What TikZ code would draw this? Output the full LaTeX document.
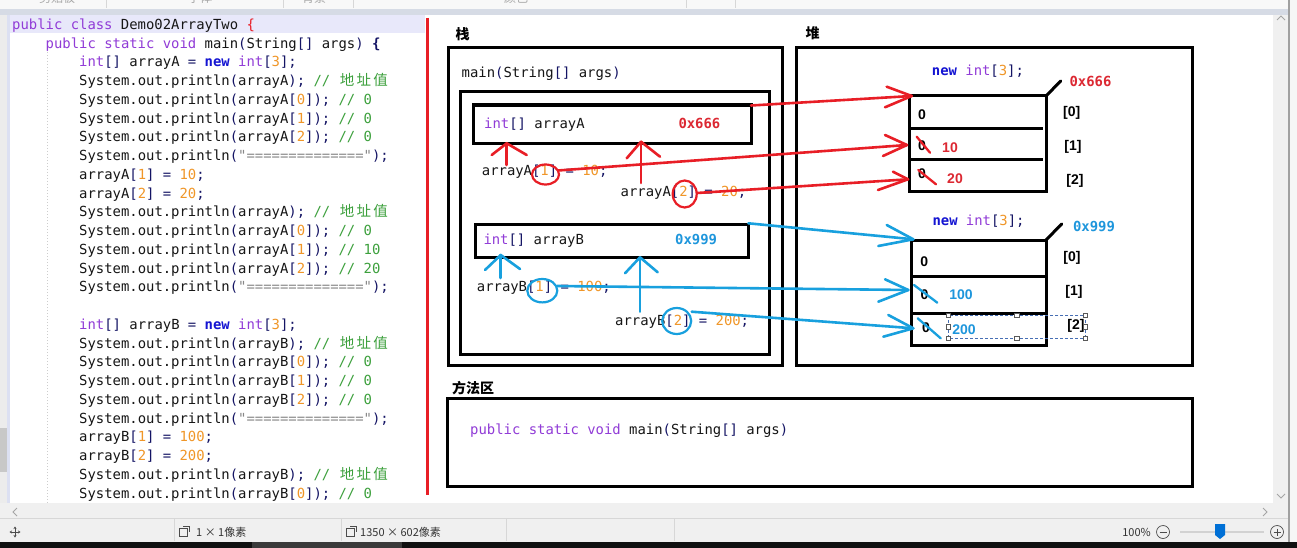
\documentclass[tikz,border=0pt]{standalone}
\usepackage{fontspec}
\setmonofont{DejaVu Sans Mono}
\setsansfont{Liberation Sans}
\newfontfamily\cjk{Noto Sans CJK SC}
\usetikzlibrary{arrows.meta}

% syntax colours
\definecolor{kwc}{RGB}{145,60,215}
\definecolor{newc}{RGB}{20,20,210}
\definecolor{numc}{RGB}{240,150,40}
\definecolor{pnc}{RGB}{20,20,100}
\definecolor{cmtc}{RGB}{60,160,60}
\definecolor{strc}{RGB}{135,135,135}
\definecolor{txt}{RGB}{22,22,22}
% ink colours
\definecolor{rd}{RGB}{232,30,38}
\definecolor{bl}{RGB}{24,160,222}
\definecolor{addrred}{RGB}{220,40,50}
\definecolor{addrblue}{RGB}{30,150,220}
% window colours
\definecolor{winbg}{RGB}{240,240,240}
\definecolor{ribbonbg}{RGB}{248,248,248}
\definecolor{bandc}{RGB}{214,219,229}
\definecolor{gutterc}{RGB}{236,236,236}
\definecolor{gutterline}{RGB}{220,224,242}
\definecolor{blockc}{RGB}{200,200,200}
\definecolor{hilite}{RGB}{232,232,250}
\definecolor{edgec}{RGB}{160,160,160}
\definecolor{outerc}{RGB}{246,246,246}
\definecolor{blackbar}{RGB}{16,16,16}
\definecolor{darkseg}{RGB}{58,58,58}
\definecolor{sepc}{RGB}{215,215,215}
\definecolor{chevc}{RGB}{165,165,165}
\definecolor{selc}{RGB}{70,110,180}
\definecolor{thumbc}{RGB}{0,112,214}
\definecolor{guidec}{RGB}{205,205,205}

\newcommand\kwd[1]{\textcolor{kwc}{#1}}
\newcommand\nwk[1]{\textcolor{newc}{\bfseries #1}}
\newcommand\nmb[1]{\textcolor{numc}{#1}}
\newcommand\pnc[1]{\textcolor{pnc}{#1}}
\newcommand\cmt[1]{\textcolor{cmtc}{#1}}
\newcommand\strg[1]{\textcolor{strc}{#1}}
\newcommand\cjkc[1]{\makebox[16.76pt]{\cjk\fontsize{14.5}{16}\selectfont #1}}
\newcommand\prt[1]{System.out.println\pnc{(}#1\pnc{);}}
\newcommand\addrnote{\cmt{// \cjkc{地}\cjkc{址}\cjkc{值}}}

\tikzset{
  code/.style={anchor=base west, inner sep=0, text=txt,
    font=\ttfamily\fontsize{13.9}{16}\selectfont},
  addr/.style={inner sep=0, font=\ttfamily\bfseries\fontsize{13.9}{16}\selectfont},
  area/.style={inner sep=0, text=black, font=\cjk\bfseries\fontsize{14}{16}\selectfont},
  cellv/.style={inner sep=0, text=black, font=\sffamily\bfseries\fontsize{14}{16}\selectfont},
  frame/.style={draw=black, line width=3pt},
  redink/.style={draw=rd, line width=2.6pt, line cap=round, line join=round},
  blueink/.style={draw=bl, line width=2.6pt, line cap=round, line join=round},
  ring/.style={line width=2.2pt},
  ribbon/.style={inner sep=0, text=gray!70, font=\cjk\fontsize{12}{14}\selectfont},
  status/.style={inner sep=0, anchor=west, text=black!80, font=\cjk\fontsize{11}{13}\selectfont},
  sep/.style={draw=sepc, line width=0.8pt},
  chev/.style={draw=chevc, line width=0.9pt},
  handle/.style={draw=gray!70!black, fill=white, line width=0.5pt},
  icon/.style={draw=black!70, line width=0.8pt}
}

\begin{document}
\begin{tikzpicture}[x=1pt,y=-1pt]
\useasboundingbox (0,0) rectangle (1297,548);

% ---------- window chrome ----------
\fill[winbg] (0,0) rectangle (1297,548);
\fill[ribbonbg] (0,0) rectangle (1297,9);
\begin{scope}
  \clip (0,0) rectangle (1297,4.5);
  \node[ribbon] (rb1) at (57,-2.5) {剪贴板};
  \node[ribbon] (rb2) at (200,-2.5) {字体};
  \node[ribbon] (rb3) at (314,-2.5) {背景};
  \node[ribbon] (rb4) at (516,-2.5) {颜色};
\end{scope}
\foreach \sx in {106,283,353,686,735} \draw[sep] (\sx,0) -- (\sx,8);
\fill[bandc] (0,9) rectangle (1289,15);

% canvas
\fill[white] (10,15) rectangle (1273,503);
\fill[gutterc] (0,15) rectangle (7,503);
\fill[gutterline] (7,15) rectangle (10,503);
\fill[blockc] (0,428) rectangle (7,472);
\fill[hilite] (10,15) rectangle (425,33);
\draw[guidec, line width=0.5pt, dash pattern=on 1pt off 2pt] (47,52) -- (47,503);

% scroll bars
\fill[winbg] (1273,15) rectangle (1287.5,503);
\fill[edgec] (1287.5,0) rectangle (1289.5,542);
\fill[outerc] (1289.5,0) rectangle (1297,542);
\fill[winbg] (0,503) rectangle (1287.5,518);
\draw[chev] (1277,20) -- (1281,16) -- (1285,20);
\draw[chev] (1277,494) -- (1281,498) -- (1285,494);
\draw[chev] (17,508) -- (13,512) -- (17,516);
\draw[chev] (1263,508) -- (1267,512) -- (1263,516);

% status bar
\fill[winbg] (0,518) rectangle (1287.5,542);
\draw[sep] (0,518.5) -- (1287.5,518.5);
\foreach \sx in {174,341,506,674} \draw[sep] (\sx,519) -- (\sx,541);
\fill[blackbar] (0,542) rectangle (1297,548);
\fill[darkseg] (252,542) rectangle (402,548);

% move icon
\draw[icon, -{Stealth[length=2.5pt,width=3pt]}] (15,532) -- (9.5,532);
\draw[icon, -{Stealth[length=2.5pt,width=3pt]}] (15,532) -- (20.5,532);
\draw[icon, -{Stealth[length=2.5pt,width=3pt]}] (15,532) -- (15,526.5);
\draw[icon, -{Stealth[length=2.5pt,width=3pt]}] (15,532) -- (15,537.5);
% selection size icons
\draw[icon, line width=0.6pt] (179,528) rectangle (187,536);
\draw[icon, line width=0.6pt] (183,526) -- (189,526) -- (189,532);
\node[status] (selsize) at (196,532) {1 × 1像素};
\draw[icon, line width=0.6pt] (346,528) rectangle (354,536);
\draw[icon, line width=0.6pt] (350,526) -- (356,526) -- (356,532);
\node[status] (imgsize) at (360,532) {1350 × 602像素};
% zoom control
\node[status, anchor=east] (zoomval) at (1151,532) {100\%};
\draw[icon, line width=0.7pt] (1163,532) circle[radius=6.5pt];
\draw[icon, line width=0.9pt] (1159.5,532) -- (1166.5,532);
\draw[gray!35, line width=2pt] (1180,532) -- (1264,532);
\fill[thumbc] (1215,524) -- (1225,524) -- (1225,535) -- (1220,539) -- (1215,535) -- cycle;
\draw[icon, line width=0.7pt] (1277,532) circle[radius=6.5pt];
\draw[icon, line width=0.9pt] (1273.5,532) -- (1280.5,532) (1277,528.5) -- (1277,535.5);

% ---------- source code ----------
\node[code] (L1) at (12,29.3) {\kwd{public class} Demo02ArrayTwo \textcolor{rd}{\{}};
\node[code] (L2) at (45.5,48.05) {\kwd{public static void} main\pnc{(}String\pnc{[]} args\pnc{)} \pnc{\bfseries\{}};
\node[code] (L3) at (79,66.8) {\kwd{int}\pnc{[]} arrayA \pnc{=} \nwk{new} \kwd{int}\pnc{[}\nmb{3}\pnc{];}};
\node[code] (L4) at (79,85.55) {\prt{arrayA} \addrnote};
\node[code] (L5) at (79,104.3) {\prt{arrayA\pnc{[}\nmb{0}\pnc{]}} \cmt{// 0}};
\node[code] (L6) at (79,123.05) {\prt{arrayA\pnc{[}\nmb{1}\pnc{]}} \cmt{// 0}};
\node[code] (L7) at (79,141.8) {\prt{arrayA\pnc{[}\nmb{2}\pnc{]}} \cmt{// 0}};
\node[code] (L8) at (79,160.55) {\prt{\strg{"=============="}}};
\node[code] (L9) at (79,179.3) {arrayA\pnc{[}\nmb{1}\pnc{]} \pnc{=} \nmb{10}\pnc{;}};
\node[code] (L10) at (79,198.05) {arrayA\pnc{[}\nmb{2}\pnc{]} \pnc{=} \nmb{20}\pnc{;}};
\node[code] (L11) at (79,216.8) {\prt{arrayA} \addrnote};
\node[code] (L12) at (79,235.55) {\prt{arrayA\pnc{[}\nmb{0}\pnc{]}} \cmt{// 0}};
\node[code] (L13) at (79,254.3) {\prt{arrayA\pnc{[}\nmb{1}\pnc{]}} \cmt{// 10}};
\node[code] (L14) at (79,273.05) {\prt{arrayA\pnc{[}\nmb{2}\pnc{]}} \cmt{// 20}};
\node[code] (L15) at (79,291.8) {\prt{\strg{"=============="}}};
\node[code] (L17) at (79,329.3) {\kwd{int}\pnc{[]} arrayB \pnc{=} \nwk{new} \kwd{int}\pnc{[}\nmb{3}\pnc{];}};
\node[code] (L18) at (79,348.05) {\prt{arrayB} \addrnote};
\node[code] (L19) at (79,366.8) {\prt{arrayB\pnc{[}\nmb{0}\pnc{]}} \cmt{// 0}};
\node[code] (L20) at (79,385.55) {\prt{arrayB\pnc{[}\nmb{1}\pnc{]}} \cmt{// 0}};
\node[code] (L21) at (79,404.3) {\prt{arrayB\pnc{[}\nmb{2}\pnc{]}} \cmt{// 0}};
\node[code] (L22) at (79,423.05) {\prt{\strg{"=============="}}};
\node[code] (L23) at (79,441.8) {arrayB\pnc{[}\nmb{1}\pnc{]} \pnc{=} \nmb{100}\pnc{;}};
\node[code] (L24) at (79,460.55) {arrayB\pnc{[}\nmb{2}\pnc{]} \pnc{=} \nmb{200}\pnc{;}};
\node[code] (L25) at (79,479.3) {\prt{arrayB} \addrnote};
\node[code] (L26) at (79,498.05) {\prt{arrayB\pnc{[}\nmb{0}\pnc{]}} \cmt{// 0}};

% divider between code and memory model
\draw[rd, line width=2.5pt] (427.5,18) -- (427.5,495);

% ---------- memory areas ----------
\node[area] (stacklbl) at (462.5,34) {栈};
\node[area] (heaplbl) at (812.5,33) {堆};
\node[area] (methodlbl) at (473,388) {方法区};

\draw[frame] (448.3,47.3) rectangle (782.7,365.7);
\draw[frame] (460.7,91.7) rectangle (769,354.3);
\draw[frame] (796.7,47.3) rectangle (1192,365.7);
\draw[frame] (447.5,398.5) rectangle (1192,486.5);

% stack frame contents
\node[code] (mainsig) at (461.5,77.3) {main\pnc{(}String\pnc{[]} args\pnc{)}};
\draw[frame, line width=3.3pt] (473.3,105) rectangle (751.7,143.3);
\node[code] (varA) at (484,128.3) {\kwd{int}\pnc{[]} arrayA};
\node[addr, anchor=base west, text=addrred] (addrA) at (678.3,128.3) {0x666};
\node[code] (setA1) at (481.7,175.7) {arrayA\pnc{[}\nmb{1}\pnc{]} \pnc{=} \nmb{10}\pnc{;}};
\node[code] (setA2) at (620.5,196.7) {arrayA\pnc{[}\nmb{2}\pnc{]} \pnc{=} \nmb{20}\pnc{;}};

\draw[frame] (475,224) rectangle (748.3,257.7);
\node[code] (varB) at (483.3,244.3) {\kwd{int}\pnc{[]} arrayB};
\node[addr, anchor=base west, text=addrblue] (addrB) at (675,244.3) {0x999};
\node[code] (setB1) at (476.7,291.7) {arrayB\pnc{[}\nmb{1}\pnc{]} \pnc{=} \nmb{100}\pnc{;}};
\node[code] (setB2) at (615,325) {arrayB\pnc{[}\nmb{2}\pnc{]} \pnc{=} \nmb{200}\pnc{;}};

% method area contents
\node[code] (mainmeth) at (470,434.5) {\kwd{public static void} main\pnc{(}String\pnc{[]} args\pnc{)}};

% ---------- heap array 0x666 ----------
\node[code] (newA) at (931.7,76) {\nwk{new} \kwd{int}\pnc{[}\nmb{3}\pnc{];}};
\draw[frame] (909.3,96) rectangle (1046,191.7);
\draw[frame] (909.3,128.3) -- (1043,128.3);
\draw[frame] (909.3,160) -- (1043,160);
\draw[frame, line cap=round] (1046,96) -- (1060.7,81);
\node[addr, text=addrred] (hA) at (1090.5,81.7) {0x666};
\node[cellv] (a0) at (922,115) {0};
\node[cellv] (a1) at (922,145.7) {0};
\node[cellv] (a2) at (922,174) {0};
\node[cellv, text=addrred] (a1n) at (950,147.5) {10};
\node[cellv, text=addrred] (a2n) at (955,179) {20};
\node[cellv] (ai0) at (1071.7,112.5) {[0]};
\node[cellv] (ai1) at (1073,147) {[1]};
\node[cellv] (ai2) at (1075,181) {[2]};

% ---------- heap array 0x999 ----------
\node[code] (newB) at (932.3,225) {\nwk{new} \kwd{int}\pnc{[}\nmb{3}\pnc{];}};
\draw[frame] (911,240) rectangle (1046,345.7);
\draw[frame] (911,276.7) -- (1046,276.7);
\draw[frame] (911,313.3) -- (1046,313.3);
\draw[frame, line cap=round] (1046,240) -- (1061.7,224);
\node[addr, text=addrblue] (hB) at (1094,226) {0x999};
\node[cellv] (b0) at (924.3,261.7) {0};
\node[cellv] (b1) at (924.5,295) {0};
\node[cellv] (b2) at (926,328) {0};
\node[cellv, text=addrblue] (b1n) at (961,295) {100};
\node[cellv, text=addrblue] (b2n) at (964,329.5) {200};
\node[cellv] (bi0) at (1072,258) {[0]};
\node[cellv] (bi1) at (1074,291.5) {[1]};
\node[cellv] (bi2) at (1076,326) {[2]};

% selection frame around the 200 text
\draw[draw=selc, line width=0.7pt, dash pattern=on 3pt off 2pt]
  (948.3,315) rectangle (1085,338.3);
\foreach \hx/\hy in {948.3/315,1016.7/315,1085/315,948.3/326.7,1085/326.7,948.3/338.3,1016.7/338.3,1085/338.3}
  \draw[handle] (\hx-2.2,\hy-2.2) rectangle (\hx+2.2,\hy+2.2);

% ---------- red annotations: arrayA ----------
\coordinate (ra0s) at (751,105.5);  \coordinate (ra0e) at (911.7,96);
\coordinate (ra0u) at (886.7,86.7); \coordinate (ra0d) at (885,107.3);
\coordinate (ra1s) at (558,170.5);  \coordinate (ra1e) at (907,145);
\coordinate (ra1u) at (885,135);    \coordinate (ra1d) at (883,156);
\coordinate (ra2s) at (697,193);    \coordinate (ra2e) at (908,179.3);
\coordinate (ra2u) at (893,171.7);  \coordinate (ra2d) at (878,190);
\draw[redink] (ra0s) -- (ra0e);  \draw[redink] (ra0u) -- (ra0e) -- (ra0d);
\draw[redink] (ra1s) -- (ra1e);  \draw[redink] (ra1u) -- (ra1e) -- (ra1d);
\draw[redink] (ra2s) -- (ra2e);  \draw[redink] (ra2u) -- (ra2e) -- (ra2d);

% pointers up to the variable arrayA
\coordinate (rua1s) at (506.7,165);   \coordinate (rua1e) at (506.7,143.3);
\coordinate (rua1l) at (491.7,155);   \coordinate (rua1r) at (526.7,155);
\coordinate (rua2s) at (641,183);     \coordinate (rua2e) at (641,141.7);
\coordinate (rua2l) at (626.7,158.3); \coordinate (rua2r) at (660,156.7);
\draw[redink] (rua1s) -- (rua1e);  \draw[redink] (rua1l) -- (rua1e) -- (rua1r);
\draw[redink] (rua2s) -- (rua2e);  \draw[redink] (rua2l) -- (rua2e) -- (rua2r);

% index rings and crossed-out zeros
\coordinate (rc1) at (545.5,174.5);  \coordinate (rc2) at (684.7,194);
\draw[rd, ring] (rc1) ellipse [x radius=13.5pt, y radius=10pt];
\draw[rd, ring] (rc2) ellipse [x radius=12pt, y radius=13.5pt];
\coordinate (rx1a) at (916.7,136.7); \coordinate (rx1b) at (930,152.7);
\coordinate (rx2a) at (918.3,170);   \coordinate (rx2b) at (936,184.3);
\draw[redink, line width=2.3pt] (rx1a) -- (rx1b);
\draw[redink, line width=2.3pt] (rx2a) -- (rx2b);

% ---------- blue annotations: arrayB ----------
\coordinate (ba0s) at (748.3,223.3); \coordinate (ba0e) at (913.3,239.3);
\coordinate (ba0u) at (886.7,225);   \coordinate (ba0d) at (878.3,246);
\coordinate (ba1s) at (557,286);     \coordinate (ba1e) at (908.3,290);
\coordinate (ba1u) at (885,279.3);   \coordinate (ba1d) at (878.3,301.7);
\coordinate (ba2s) at (691.7,311.7); \coordinate (ba2e) at (913.3,328.3);
\coordinate (ba2u) at (888.3,315);   \coordinate (ba2d) at (883.3,336.7);
\draw[blueink] (ba0s) -- (ba0e);  \draw[blueink] (ba0u) -- (ba0e) -- (ba0d);
\draw[blueink] (ba1s) -- (ba1e);  \draw[blueink] (ba1u) -- (ba1e) -- (ba1d);
\draw[blueink] (ba2s) -- (ba2e);  \draw[blueink] (ba2u) -- (ba2e) -- (ba2d);

% pointers up to the variable arrayB
\coordinate (bub1s) at (500.7,278);   \coordinate (bub1e) at (500.7,255);
\coordinate (bub1l) at (485,270);     \coordinate (bub1r) at (520,269);
\coordinate (bub2s) at (640,311.7);   \coordinate (bub2e) at (640,257.3);
\coordinate (bub2l) at (625,273.3);   \coordinate (bub2r) at (657.7,272.3);
\draw[blueink] (bub1s) -- (bub1e);  \draw[blueink] (bub1l) -- (bub1e) -- (bub1r);
\draw[blueink] (bub2s) -- (bub2e);  \draw[blueink] (bub2l) -- (bub2e) -- (bub2r);

\coordinate (bc1) at (542.3,290.7);  \coordinate (bc2) at (676.7,321);
\draw[bl, ring] (bc1) ellipse [x radius=15pt, y radius=11.7pt];
\draw[bl, ring] (bc2) ellipse [x radius=14.5pt, y radius=13pt];
\coordinate (bx1a) at (914,285);     \coordinate (bx1b) at (937.3,302.7);
\coordinate (bx2a) at (917.7,318.3); \coordinate (bx2b) at (940.7,338.3);
\draw[blueink, line width=2.3pt] (bx1a) -- (bx1b);
\draw[blueink, line width=2.3pt] (bx2a) -- (bx2b);

\end{tikzpicture}
\end{document}
